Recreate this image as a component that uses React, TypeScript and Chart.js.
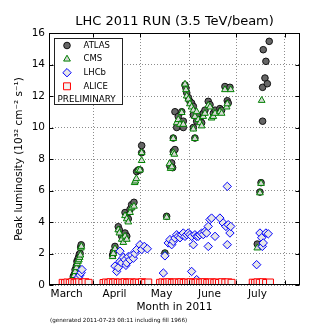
import React, { useEffect, useRef } from "react";
import { Chart, registerables } from "chart.js";

Chart.register(...registerables);

const FONT = "'DejaVu Sans', 'Bitstream Vera Sans', Verdana, sans-serif";

// x axis: days since 1 March 2011 (1 March = day 0)
const monthLabels = ["March", "April", "May", "June", "July"];
const monthLabelDays = [14, 44.5, 74.5, 105, 135.5];
const monthStartDays = [31, 61, 92, 122, 153];
const yTickValues = [0, 2, 4, 6, 8, 10, 12, 14, 16];

const titleText = "LHC 2011 RUN (3.5 TeV/beam)";
const xTitle = "Month in 2011";
const yTitle = "Peak luminosity (10\u00B3\u00B2 cm\u207B\u00B2 s\u207B\u00B9)";
const footnote = "(generated 2011-07-23 08:11 including fill 1966)";
const legendNote = "PRELIMINARY";

const atlasPoints: [number, number][] = [
  [17.0, 0.15], [17.6, 0.3], [18.3, 0.55], [19.0, 0.7], [19.4, 0.97], [20.2, 1.2], [20.6, 1.5],
  [21.1, 1.6], [21.6, 1.75], [22.1, 1.95], [22.6, 2.0], [23.0, 2.4], [23.3, 2.55],
  [43.3, 1.9], [43.8, 2.1], [44.8, 2.45], [46.9, 3.7], [47.6, 3.5], [49.1, 3.1], [50.1, 2.9],
  [51.2, 3.3], [52.3, 3.1], [51.2, 4.6], [52.3, 4.4], [53.3, 4.2], [54.4, 4.8], [55.4, 5.1],
  [56.9, 5.25], [58.6, 7.2], [59.6, 7.3], [60.7, 7.3], [61.8, 8.4], [61.8, 8.85],
  [76.6, 2.03], [77.7, 4.36], [79.8, 7.55], [80.9, 7.75], [81.5, 7.45], [81.9, 8.48], [83.0, 8.6],
  [81.9, 9.33], [84.1, 10.0], [88.3, 10.0], [83.0, 11.0], [85.1, 10.7], [87.3, 11.0], [88.3, 10.4],
  [89.4, 12.7], [90.0, 12.5], [90.5, 12.2], [91.5, 11.9], [92.5, 11.66], [93.6, 11.55], [94.7, 11.34],
  [95.7, 10.9], [94.7, 10.8], [97.8, 10.7], [98.9, 10.5], [96.8, 10.4], [100.0, 10.3], [94.7, 10.0],
  [95.7, 9.33], [101.0, 10.9], [102.1, 11.1], [104.2, 11.66], [105.3, 11.45], [107.4, 10.9],
  [108.5, 11.1], [111.6, 11.2], [112.7, 11.1], [116.3, 11.7], [116.9, 11.55], [114.8, 12.6], [118.0, 12.55],
  [135.4, 2.6], [137.1, 5.9], [137.8, 6.5], [138.8, 10.4], [138.8, 12.55], [139.2, 14.94],
  [140.3, 13.14], [140.9, 14.2], [141.8, 12.78], [143.0, 15.47],
];

const cmsPoints: [number, number][] = [
  [17.3, 0.1], [18.0, 0.4], [18.8, 0.6], [19.5, 0.85], [20.3, 1.1], [20.8, 1.35], [21.3, 1.5],
  [21.8, 1.6], [22.3, 1.75], [22.8, 1.9], [23.1, 2.35], [23.4, 2.45],
  [43.3, 1.8], [43.8, 2.0], [44.8, 2.3], [46.9, 3.5], [47.6, 3.3], [49.1, 2.9], [50.1, 2.7],
  [51.2, 3.1], [52.3, 2.9], [51.2, 4.4], [52.3, 4.2], [53.3, 4.0], [54.4, 4.6], [55.4, 4.9],
  [56.9, 5.0], [57.3, 6.5], [57.8, 6.6], [58.4, 6.75], [59.6, 7.3], [60.7, 7.3], [61.8, 7.9], [61.8, 8.4],
  [76.6, 1.95], [77.7, 4.3], [79.5, 7.7], [80.2, 7.4], [81.0, 7.5], [81.9, 8.4], [82.6, 8.3],
  [81.9, 9.3], [84.1, 10.3], [85.1, 10.5], [86.2, 10.2], [87.3, 10.95], [88.3, 10.2], [89.4, 12.75],
  [90.0, 12.4], [90.5, 12.0], [91.5, 11.8], [92.5, 11.5], [93.6, 11.3], [94.7, 11.1], [95.7, 10.7],
  [96.8, 11.0], [97.8, 10.5], [98.9, 10.3], [100.0, 10.1], [94.7, 9.9], [95.7, 9.3], [101.0, 10.7],
  [102.1, 10.9], [104.2, 11.4], [105.3, 11.3], [106.3, 10.6], [107.4, 10.7], [108.5, 10.9],
  [111.6, 11.0], [112.7, 10.9], [115.9, 11.3], [116.3, 11.5], [114.8, 12.4], [118.5, 12.4],
  [135.4, 2.35], [137.1, 5.85], [137.8, 6.45], [138.2, 11.72],
];

const lhcbPoints: [number, number][] = [
  [13.0, 0.03], [15.5, 0.03], [17.5, 0.08], [19.0, 0.15], [20.0, 0.25], [21.0, 0.35], [21.6, 0.5],
  [22.5, 0.62], [23.3, 0.78], [23.8, 0.98],
  [40.0, 0.05], [43.7, 0.08], [44.8, 1.2], [45.9, 0.86], [46.9, 1.1], [48.0, 1.5], [48.0, 2.15],
  [49.1, 1.4], [50.1, 1.75], [51.2, 1.6], [51.8, 1.25], [52.3, 1.4], [53.3, 1.8], [54.4, 1.6],
  [55.4, 1.9], [56.5, 1.7], [57.5, 2.0], [58.6, 2.25], [60.7, 2.55], [61.8, 2.25], [63.5, 2.45], [65.4, 2.3],
  [73.5, 0.05], [75.6, 0.76], [76.6, 1.85], [78.7, 2.67], [79.8, 2.88], [80.9, 2.56], [81.9, 2.77],
  [83.0, 2.98], [84.1, 3.19], [85.1, 3.09], [86.2, 3.0], [87.3, 3.19], [88.3, 3.3], [89.4, 3.09],
  [90.5, 3.19], [91.5, 3.3], [92.5, 3.19], [92.5, 0.05], [93.6, 3.09], [93.6, 0.86], [94.7, 2.56],
  [95.7, 3.19], [96.8, 3.09], [96.8, 0.34], [97.8, 3.09], [98.9, 3.19], [100.0, 3.3], [101.0, 3.2],
  [102.1, 3.4], [103.1, 3.3], [104.2, 3.72], [104.2, 2.45], [105.3, 4.15], [106.3, 4.25], [108.5, 3.09],
  [111.6, 4.25], [113.7, 3.94], [115.4, 3.72], [116.3, 2.56], [116.3, 6.26], [116.9, 3.83], [118.0, 3.3],
  [118.5, 3.72],
  [132.6, 0.05], [135.0, 1.29], [136.0, 0.13], [137.1, 3.3], [138.2, 3.0], [138.6, 2.45], [139.2, 2.67],
  [140.9, 3.3], [142.4, 3.25],
];

const alicePoints: [number, number][] = [
  [11.5, 0.14], [13.0, 0.12], [14.5, 0.16], [16.0, 0.13], [17.5, 0.18], [19.0, 0.12], [20.5, 0.15],
  [22.0, 0.17], [24.0, 0.13], [26.0, 0.18], [28.0, 0.14],
  [37.5, 0.13], [39.0, 0.16], [40.5, 0.12], [42.0, 0.18], [43.5, 0.14], [45.0, 0.17], [46.5, 0.13],
  [48.0, 0.16], [49.5, 0.14], [51.0, 0.18], [52.5, 0.13], [54.0, 0.15], [55.5, 0.17], [57.0, 0.13],
  [58.5, 0.16], [60.0, 0.14], [62.0, 0.18], [64.0, 0.13], [66.0, 0.16],
  [73.5, 0.14], [75.0, 0.17], [76.5, 0.13], [78.0, 0.16], [79.5, 0.18], [81.0, 0.13], [82.5, 0.15],
  [84.0, 0.17], [85.5, 0.14], [87.0, 0.18], [88.5, 0.13], [90.0, 0.16], [91.5, 0.14], [93.0, 0.18],
  [94.5, 0.15], [96.0, 0.13], [97.5, 0.17], [99.0, 0.14], [100.5, 0.16], [102.0, 0.18], [103.5, 0.13],
  [105.0, 0.15], [106.5, 0.17], [108.0, 0.14], [109.5, 0.16], [111.0, 0.13], [113.0, 0.18], [115.0, 0.15],
  [117.0, 0.17], [119.0, 0.14],
  [132.5, 0.15], [134.0, 0.13], [135.5, 0.17], [137.0, 0.14], [139.0, 0.18], [141.0, 0.13], [143.5, 0.16],
];

type SeriesStyle = {
  label: string;
  points: [number, number][];
  shape: "circle" | "triangle" | "rectRot" | "rect";
  radius: number;
  fill: string;
  stroke: string;
  order: number;
};

const series: SeriesStyle[] = [
  { label: "ATLAS", points: atlasPoints, shape: "circle", radius: 3.3, fill: "#666666", stroke: "#111111", order: 4 },
  { label: "CMS", points: cmsPoints, shape: "triangle", radius: 3.9, fill: "#d8d8d8", stroke: "#008000", order: 3 },
  { label: "LHCb", points: lhcbPoints, shape: "rectRot", radius: 4.2, fill: "#e6e6e6", stroke: "#0000ff", order: 2 },
  { label: "ALICE", points: alicePoints, shape: "rect", radius: 4.9, fill: "#f2f2f2", stroke: "#ff0000", order: 1 },
];

function drawMarker(ctx: CanvasRenderingContext2D, s: SeriesStyle, x: number, y: number) {
  const r = s.radius;
  ctx.beginPath();
  if (s.shape === "circle") {
    ctx.arc(x, y, r, 0, Math.PI * 2);
  } else if (s.shape === "triangle") {
    ctx.moveTo(x, y - r);
    ctx.lineTo(x + r * 0.866, y + r * 0.5);
    ctx.lineTo(x - r * 0.866, y + r * 0.5);
    ctx.closePath();
  } else if (s.shape === "rectRot") {
    ctx.moveTo(x, y - r);
    ctx.lineTo(x + r, y);
    ctx.lineTo(x, y + r);
    ctx.lineTo(x - r, y);
    ctx.closePath();
  } else {
    const h = r * Math.SQRT1_2;
    ctx.rect(x - h, y - h, 2 * h, 2 * h);
  }
  ctx.fillStyle = s.fill;
  ctx.fill();
  ctx.lineWidth = 1;
  ctx.strokeStyle = s.stroke;
  ctx.stroke();
}

const framePlugin = {
  id: "lhcFrame",
  afterDatasetsDraw(chart: any) {
    const { ctx, chartArea: a, scales } = chart;
    ctx.save();
    ctx.strokeStyle = "#000";
    ctx.lineWidth = 1;
    const L = Math.round(a.left) + 0.5;
    const R = Math.round(a.right) - 0.5;
    const T = Math.round(a.top) + 0.5;
    const B = Math.round(a.bottom) - 0.5;
    ctx.strokeRect(L, T, R - L, B - T);
    ctx.beginPath();
    for (const v of yTickValues) {
      const py = Math.round(scales.y.getPixelForValue(v)) + 0.5;
      ctx.moveTo(L, py);
      ctx.lineTo(L + 4, py);
      ctx.moveTo(R, py);
      ctx.lineTo(R - 4, py);
    }
    for (const v of monthStartDays) {
      const px = Math.round(scales.x.getPixelForValue(v)) + 0.5;
      if (px < L || px > R) continue;
      ctx.moveTo(px, T);
      ctx.lineTo(px, T + 4);
      ctx.moveTo(px, B);
      ctx.lineTo(px, B - 4);
    }
    ctx.stroke();
    ctx.restore();
  },
  afterDraw(chart: any) {
    const { ctx, chartArea: a } = chart;
    ctx.save();
    // legend box
    const bx = a.left + 5.5;
    const by = a.top + 5.5;
    const bw = 68;
    const bh = 66;
    ctx.fillStyle = "#ffffff";
    ctx.fillRect(bx, by, bw, bh);
    ctx.strokeStyle = "#222";
    ctx.lineWidth = 1;
    ctx.strokeRect(bx, by, bw, bh);
    ctx.font = `8.5px ${FONT}`;
    ctx.textBaseline = "middle";
    ctx.textAlign = "left";
    series.forEach((s, i) => {
      const cy = by + 7 + i * 13.6;
      drawMarker(ctx, s, bx + 12.5, cy);
      ctx.fillStyle = "#000";
      ctx.fillText(s.label, bx + 29, cy);
    });
    ctx.font = `8.8px ${FONT}`;
    ctx.fillStyle = "#000";
    ctx.fillText(legendNote, bx + 3, by + 7 + 4 * 13.6);
    // footnote
    ctx.font = `5.6px ${FONT}`;
    ctx.fillText(footnote, 50, 321);
    ctx.restore();
  },
};

export default function App() {
  const ref = useRef<HTMLCanvasElement>(null);
  useEffect(() => {
    document.body.style.margin = "0";
    const tickList = [...monthLabelDays, ...monthStartDays].sort((p, q) => p - q);
    const chart = new Chart(ref.current as HTMLCanvasElement, {
      type: "scatter",
      data: {
        datasets: series.map((s) => ({
          label: s.label,
          data: s.points.map(([x, y]) => ({ x, y })),
          pointStyle: s.shape,
          pointRadius: s.radius,
          pointHoverRadius: s.radius,
          backgroundColor: s.fill,
          borderColor: s.stroke,
          borderWidth: 1,
          order: s.order,
          clip: 0,
        })),
      },
      options: {
        responsive: false,
        animation: false,
        devicePixelRatio: 1,
        events: [],
        layout: { padding: { left: 0, right: 32, top: 0, bottom: 0 } },
        plugins: {
          legend: { display: false },
          tooltip: { enabled: false },
          title: {
            display: true,
            fullSize: false,
            text: titleText,
            color: "#000",
            font: { family: FONT, size: 13, weight: "normal" },
            padding: { top: 14, bottom: 3.4 },
          },
        },
        scales: {
          x: {
            type: "linear",
            min: 2.8,
            max: 162.6,
            afterBuildTicks: (scale: any) => {
              scale.ticks = tickList.map((v) => ({ value: v }));
            },
            afterFit: (scale: any) => {
              scale.height = 47;
            },
            ticks: {
              autoSkip: false,
              maxRotation: 0,
              minRotation: 0,
              padding: 3,
              color: "#000",
              font: { family: FONT, size: 10.5 },
              callback: (v: any) => {
                const i = monthLabelDays.indexOf(Number(v));
                return i >= 0 ? monthLabels[i] : "";
              },
            },
            grid: {
              drawTicks: false,
              lineWidth: 1,
              color: (c: any) =>
                c.tick && monthStartDays.includes(c.tick.value) ? "rgba(0,0,0,0.45)" : "rgba(0,0,0,0)",
            },
            border: { display: false, dash: [1, 2] },
            title: {
              display: true,
              text: xTitle,
              color: "#000",
              font: { family: FONT, size: 10.5 },
              padding: { top: 0, bottom: 18 },
            },
          },
          y: {
            type: "linear",
            min: 0,
            max: 16,
            afterBuildTicks: (scale: any) => {
              scale.ticks = yTickValues.map((v) => ({ value: v }));
            },
            afterFit: (scale: any) => {
              scale.width = 49;
            },
            ticks: {
              padding: 4,
              color: "#000",
              font: { family: FONT, size: 10.5 },
              callback: (v: any) => String(v),
            },
            grid: {
              drawTicks: false,
              lineWidth: 1,
              color: "rgba(0,0,0,0.45)",
            },
            border: { display: false, dash: [1, 2] },
            title: {
              display: true,
              text: yTitle,
              color: "#000",
              font: { family: FONT, size: 10.5 },
              padding: { top: 13, bottom: 0 },
            },
          },
        },
      },
      plugins: [framePlugin],
    } as any);
    return () => chart.destroy();
  }, []);
  return (
    <div style={{ width: 332, height: 332 }}>
      <canvas ref={ref} width={332} height={332} style={{ width: 332, height: 332, display: "block" }} />
    </div>
  );
}
